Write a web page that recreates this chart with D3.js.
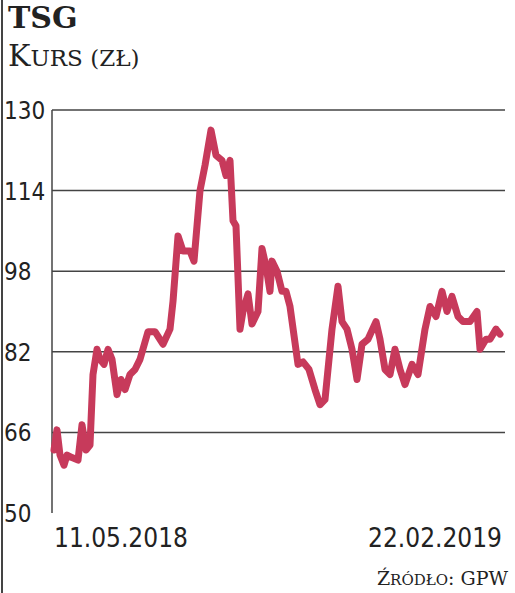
<!DOCTYPE html>
<html><head><meta charset="utf-8">
<script src="https://cdn.jsdelivr.net/npm/d3@7"></script>
<style>body{margin:0;background:#fff}</style></head>
<body><svg id="c" width="515" height="593"></svg>
<script>
const yTicks=[50,66,82,98,114,130];
const dateLabels=["11.05.2018","22.02.2019"];
const days=[0,3,6,10,13,18,24,28,32,36,39,43,46,50,54,58,63,67,71,76,81,86,94,101,109,116,119,124,129,136,140,146,151,157,162,168,172,176,179,182,186,189,194,198,204,208,212,216,218,223,228,232,236,244,249,255,261,266,271,278,284,288,293,298,303,308,314,322,326,331,336,341,346,351,358,364,371,376,382,388,393,398,404,409,416,423,426,432,436,442,446,449];
const values=[62.5,66.5,61.5,59.5,61.5,61,60.5,67.5,62.5,63.5,77.5,82.5,80.5,79.5,82.5,80.5,73.5,76.5,74.5,77.5,78.5,80.5,86,86,83.5,86.5,92,105,102,102,100,114,119,126,121,120,117,120,108,107,86.5,90,93.5,87.5,90,102.5,99,94,100,98,94,94,91,79.5,80,78.5,74.5,71.5,72.5,86.5,95,88,86.5,82.5,76.5,83.5,84.5,88,84.5,78.5,77.5,82.5,78.5,75.5,79.5,77.5,86.5,91,89,94,90,93,89,88,88,90,82.5,84.5,84.5,86.5,85.5];
const svg=d3.select("#c");
const x=d3.scaleLinear().domain([0,449]).range([54,503]);
const y=d3.scaleLinear().domain([50,130]).range([513,110]);
svg.append("line").attr("x1",2).attr("x2",2).attr("y1",0).attr("y2",593).attr("stroke","#444").attr("stroke-width",2);
svg.append("text").attr("x",8).attr("y",28).text("TSG").attr("font-family","DejaVu Serif").attr("font-weight","bold").attr("font-size",30).attr("fill","#222");
const k=svg.append("text").attr("x",8).attr("y",66).attr("font-family","DejaVu Serif").attr("fill","#222").attr("font-size",30);
k.append("tspan").text("K");k.append("tspan").attr("font-size",23).text("URS (ZŁ)");
svg.append("g").selectAll("line").data(yTicks.slice(1)).join("line")
 .attr("x1",52).attr("x2",505).attr("y1",d=>y(d)).attr("y2",d=>y(d)).attr("stroke","#444").attr("stroke-width",1.5);
svg.append("line").attr("x1",52).attr("x2",52).attr("y1",y(130)).attr("y2",y(50)).attr("stroke","#444").attr("stroke-width",1.5);
svg.append("g").selectAll("text").data(yTicks).join("text")
 .attr("x",4).attr("y",d=>y(d)+9).text(d=>d).attr("font-family","DejaVu Sans Condensed, DejaVu Sans").attr("font-size",24).attr("fill","#222");
svg.append("path").datum(days.map((d,i)=>[d,values[i]]))
 .attr("d",d3.line().x(d=>x(d[0])).y(d=>y(d[1])))
 .attr("fill","none").attr("stroke","#c73a5b").attr("stroke-width",7).attr("stroke-linejoin","round").attr("stroke-linecap","round");
svg.append("text").attr("x",54).attr("y",547).text(dateLabels[0]).attr("font-family","DejaVu Sans Condensed, DejaVu Sans").attr("font-size",26).attr("fill","#222");
svg.append("text").attr("x",502).attr("y",547).attr("text-anchor","end").text(dateLabels[1]).attr("font-family","DejaVu Sans Condensed, DejaVu Sans").attr("font-size",26).attr("fill","#222");
const s=svg.append("text").attr("x",508).attr("y",585).attr("text-anchor","end").attr("font-family","DejaVu Serif").attr("font-size",19).attr("fill","#222");
s.append("tspan").text("Ź");s.append("tspan").attr("font-size",15).text("RÓDŁO");s.append("tspan").text(": GPW");
</script></body></html>
